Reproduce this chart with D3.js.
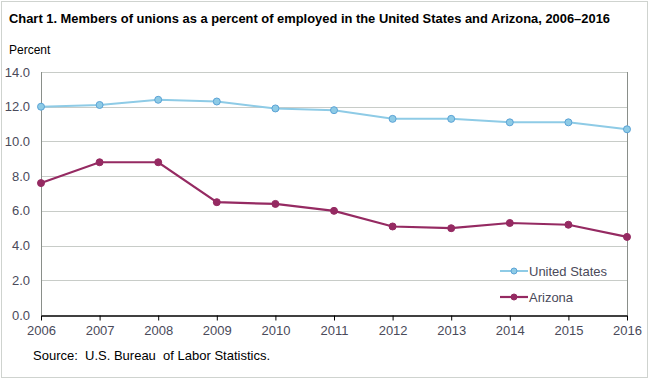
<!DOCTYPE html>
<html>
<head>
<meta charset="utf-8">
<script src="https://cdn.jsdelivr.net/npm/d3@7"></script>
<style>
  html, body { margin: 0; padding: 0; background: #fff; }
  svg { display: block; font-family: Arial, "Liberation Sans", sans-serif; }
</style>
</head>
<body>
<div id="chart"></div>
<script>
const years = [2006, 2007, 2008, 2009, 2010, 2011, 2012, 2013, 2014, 2015, 2016];
const unitedStates = [12.0, 12.1, 12.4, 12.3, 11.9, 11.8, 11.3, 11.3, 11.1, 11.1, 10.7];
const arizona = [7.6, 8.8, 8.8, 6.5, 6.4, 6.0, 5.1, 5.0, 5.3, 5.2, 4.5];
const yTicks = [0, 2, 4, 6, 8, 10, 12, 14];

const width = 650, height = 384;
const margin = { top: 72, right: 23, bottom: 69, left: 41 };

const svg = d3.select('#chart').append('svg')
  .attr('width', width)
  .attr('height', height);

// outer frame
svg.append('rect')
  .attr('x', 1.5).attr('y', 1.5)
  .attr('width', width - 4).attr('height', height - 8)
  .attr('fill', 'none')
  .attr('stroke', '#cfd3cf');

svg.append('text')
  .attr('x', 9).attr('y', 23)
  .attr('font-size', 13.5)
  .attr('font-weight', 'bold')
  .attr('fill', '#000')
  .attr('textLength', 601)
  .attr('lengthAdjust', 'spacingAndGlyphs')
  .text('Chart 1. Members of unions as a percent of employed in the United  States and Arizona, 2006\u20132016');

svg.append('text')
  .attr('x', 9).attr('y', 54)
  .attr('font-size', 12)
  .attr('fill', '#000')
  .text('Percent');

const x = d3.scaleLinear()
  .domain([years[0], years[years.length - 1]])
  .range([margin.left, width - margin.right]);

const y = d3.scaleLinear()
  .domain([0, 14])
  .range([height - margin.bottom, margin.top]);

// gridlines
svg.append('g')
  .selectAll('line')
  .data(yTicks.filter(d => d > 0))
  .join('line')
  .attr('x1', margin.left).attr('x2', width - margin.right)
  .attr('y1', d => Math.round(y(d)) + 0.5)
  .attr('y2', d => Math.round(y(d)) + 0.5)
  .attr('stroke', '#c8ccc8');

// left and right axis lines
svg.append('line')
  .attr('x1', margin.left + 0.5).attr('x2', margin.left + 0.5)
  .attr('y1', y(14)).attr('y2', y(0))
  .attr('stroke', '#8a8f8a');
svg.append('line')
  .attr('x1', width - margin.right + 0.5).attr('x2', width - margin.right + 0.5)
  .attr('y1', y(14)).attr('y2', y(0))
  .attr('stroke', '#8a8f8a');

// y tick labels
svg.append('g')
  .selectAll('text')
  .data(yTicks)
  .join('text')
  .attr('x', 30)
  .attr('y', d => y(d) + 4.5)
  .attr('text-anchor', 'end')
  .attr('font-size', 13)
  .attr('fill', '#4a4a5a')
  .text(d => d.toFixed(1));

// x axis
const xAxis = svg.append('g')
  .attr('transform', `translate(0,${Math.round(y(0)) + 0.5})`)
  .call(d3.axisBottom(x).tickValues(years).tickFormat(d3.format('d')).tickSize(5).tickSizeOuter(0));
xAxis.select('.domain').attr('stroke', '#000').attr('stroke-width', 1.5);
xAxis.selectAll('.tick line').attr('stroke', '#000');
xAxis.selectAll('.tick text')
  .attr('font-size', 13)
  .attr('font-family', 'Arial, "Liberation Sans", sans-serif')
  .attr('fill', '#4a4a5a')
  .attr('dy', '0.9em');

const line = d3.line()
  .x((d, i) => x(years[i]))
  .y(d => y(d));

const series = [
  { name: 'United States', values: unitedStates, stroke: '#8ecbe6', fill: '#8ecbe6', ring: '#5ba3d6', r: 3.5, w: 2 },
  { name: 'Arizona', values: arizona, stroke: '#952a62', fill: '#952a62', ring: '#952a62', r: 3.5, w: 2.2 }
];

series.forEach(s => {
  svg.append('path')
    .datum(s.values)
    .attr('fill', 'none')
    .attr('stroke', s.stroke)
    .attr('stroke-width', s.w)
    .attr('d', line);
  svg.append('g')
    .selectAll('circle')
    .data(s.values)
    .join('circle')
    .attr('cx', (d, i) => x(years[i]))
    .attr('cy', d => y(d))
    .attr('r', s.r)
    .attr('fill', s.fill)
    .attr('stroke', s.ring)
    .attr('stroke-width', 1);
});

// legend
const legend = svg.append('g');
series.forEach((s, i) => {
  const ly = 271 + i * 26;
  legend.append('line')
    .attr('x1', 500).attr('x2', 528)
    .attr('y1', ly).attr('y2', ly)
    .attr('stroke', s.stroke)
    .attr('stroke-width', s.w);
  legend.append('circle')
    .attr('cx', 514).attr('cy', ly)
    .attr('r', 3)
    .attr('fill', s.fill)
    .attr('stroke', s.ring);
  legend.append('text')
    .attr('x', 529).attr('y', ly + 4.5)
    .attr('font-size', 13)
    .attr('fill', '#4a4a5a')
    .text(s.name);
});

svg.append('text')
  .attr('x', 33).attr('y', 360)
  .attr('font-size', 13)
  .attr('fill', '#000')
  .style('white-space', 'pre')
  .text('Source:  U.S. Bureau  of Labor Statistics.');
</script>
</body>
</html>
